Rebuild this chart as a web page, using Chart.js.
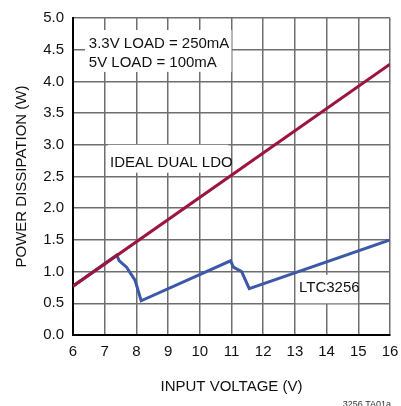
<!DOCTYPE html>
<html>
<head>
<meta charset="utf-8">
<script src="https://cdn.jsdelivr.net/npm/chart.js@4/dist/chart.umd.min.js"></script>
<style>
  html, body { margin: 0; padding: 0; background: #fff; }
  #wrap { width: 401px; height: 406px; }
</style>
</head>
<body>
<div id="wrap"><canvas id="myChart"></canvas></div>
<script>
// input voltage (V) vs power dissipation (W)
const idealX = [6, 16];
const idealY = [0.77, 4.27];

const ltcX = [6, 7.38, 7.46, 7.69, 7.96, 8.15, 10.97, 11.06, 11.32, 11.56, 16];
const ltcY = [0.77, 1.26, 1.17, 1.07, 0.86, 0.54, 1.17, 1.07, 1.0, 0.73, 1.5];

const xTicks = [6, 7, 8, 9, 10, 11, 12, 13, 14, 15, 16];
const yTicks = [0, 0.5, 1, 1.5, 2, 2.5, 3, 3.5, 4, 4.5, 5];

const FONT = "'Liberation Sans Narrow', 'Arial Narrow', 'Liberation Sans', sans-serif";

const toPoints = (xs, ys) => xs.map((x, i) => ({ x: x, y: ys[i] }));

// white label boxes drawn over the grid
const labels = [
    { box: [6.38, 11.0, 4.81, 4.15], lines: ['3.3V LOAD = 250mA', '5V LOAD = 100mA'], x: 6.5, y: [4.6, 4.3] },
    { box: [7.1, 10.9, 3.0, 2.56], lines: ['IDEAL DUAL LDO'], x: 7.17, y: [2.72] },
    { box: [13.03, 14.99, 0.95, 0.5], lines: ['LTC3256'], x: 13.13, y: [0.74] }
];

const labelPlugin = {
    id: 'labelPlugin',
    beforeDatasetsDraw(chart) {
        const c = chart.ctx;
        const xs = chart.scales.x, ys = chart.scales.y;
        c.save();
        labels.forEach(l => {
            const x0 = xs.getPixelForValue(l.box[0]);
            const x1 = xs.getPixelForValue(l.box[1]);
            const y0 = ys.getPixelForValue(l.box[2]);
            const y1 = ys.getPixelForValue(l.box[3]);
            c.fillStyle = '#fff';
            c.fillRect(x0, y0, x1 - x0, y1 - y0);
            c.fillStyle = '#111';
            c.font = '15px ' + FONT;
            c.textAlign = 'left';
            c.textBaseline = 'middle';
            l.lines.forEach((t, i) => {
                c.fillText(t, xs.getPixelForValue(l.x), ys.getPixelForValue(l.y[i]));
            });
        });
        c.restore();
    },
    afterDraw(chart) {
        const c = chart.ctx;
        c.save();
        c.fillStyle = '#333';
        c.font = '9px ' + FONT;
        c.textAlign = 'right';
        c.textBaseline = 'bottom';
        c.fillText('3256 TA01a', chart.width - 10, chart.height + 3);
        c.restore();
    }
};

const ctx = document.getElementById('myChart');
new Chart(ctx, {
    type: 'scatter',
    data: {
        datasets: [
            {
                label: 'IDEAL DUAL LDO',
                data: toPoints(idealX, idealY),
                showLine: true,
                borderColor: '#9c1440',
                borderWidth: 3,
                pointRadius: 0,
                order: 0
            },
            {
                label: 'LTC3256',
                data: toPoints(ltcX, ltcY),
                showLine: true,
                borderColor: '#3d58a8',
                borderWidth: 3,
                pointRadius: 0,
                order: 1
            }
        ]
    },
    options: {
        responsive: true,
        maintainAspectRatio: false,
        animation: false,
        layout: { padding: { top: 18, right: 11, left: 0, bottom: 0 } },
        plugins: {
            legend: { display: false },
            tooltip: { enabled: false }
        },
        scales: {
            x: {
                type: 'linear',
                min: 6,
                max: 16,
                afterBuildTicks: s => { s.ticks = xTicks.map(v => ({ value: v })); },
                afterFit: s => { s.height = 71; s.paddingRight = 0; s.paddingLeft = 0; },
                ticks: {
                    color: '#111',
                    font: { family: FONT, size: 15 },
                    padding: 8,
                    maxRotation: 0
                },
                grid: { color: '#6e6e6e', lineWidth: 1.5, drawTicks: false },
                border: { color: '#000', width: 2 },
                title: {
                    display: true,
                    text: 'INPUT VOLTAGE (V)',
                    color: '#111',
                    font: { family: FONT, size: 15 },
                    padding: { bottom: 10 }
                }
            },
            y: {
                type: 'linear',
                min: 0,
                max: 5,
                afterBuildTicks: s => { s.ticks = yTicks.map(v => ({ value: v })); },
                afterFit: s => { s.width = 73; },
                ticks: {
                    color: '#111',
                    font: { family: FONT, size: 15 },
                    padding: 9,
                    callback: v => v.toFixed(1)
                },
                grid: { color: '#6e6e6e', lineWidth: 1.5, drawTicks: false },
                border: { color: '#000', width: 2 },
                title: {
                    display: true,
                    text: 'POWER DISSIPATION (W)',
                    color: '#111',
                    font: { family: FONT, size: 15 },
                    padding: { top: 13 }
                }
            }
        }
    },
    plugins: [labelPlugin]
});
</script>
</body>
</html>
